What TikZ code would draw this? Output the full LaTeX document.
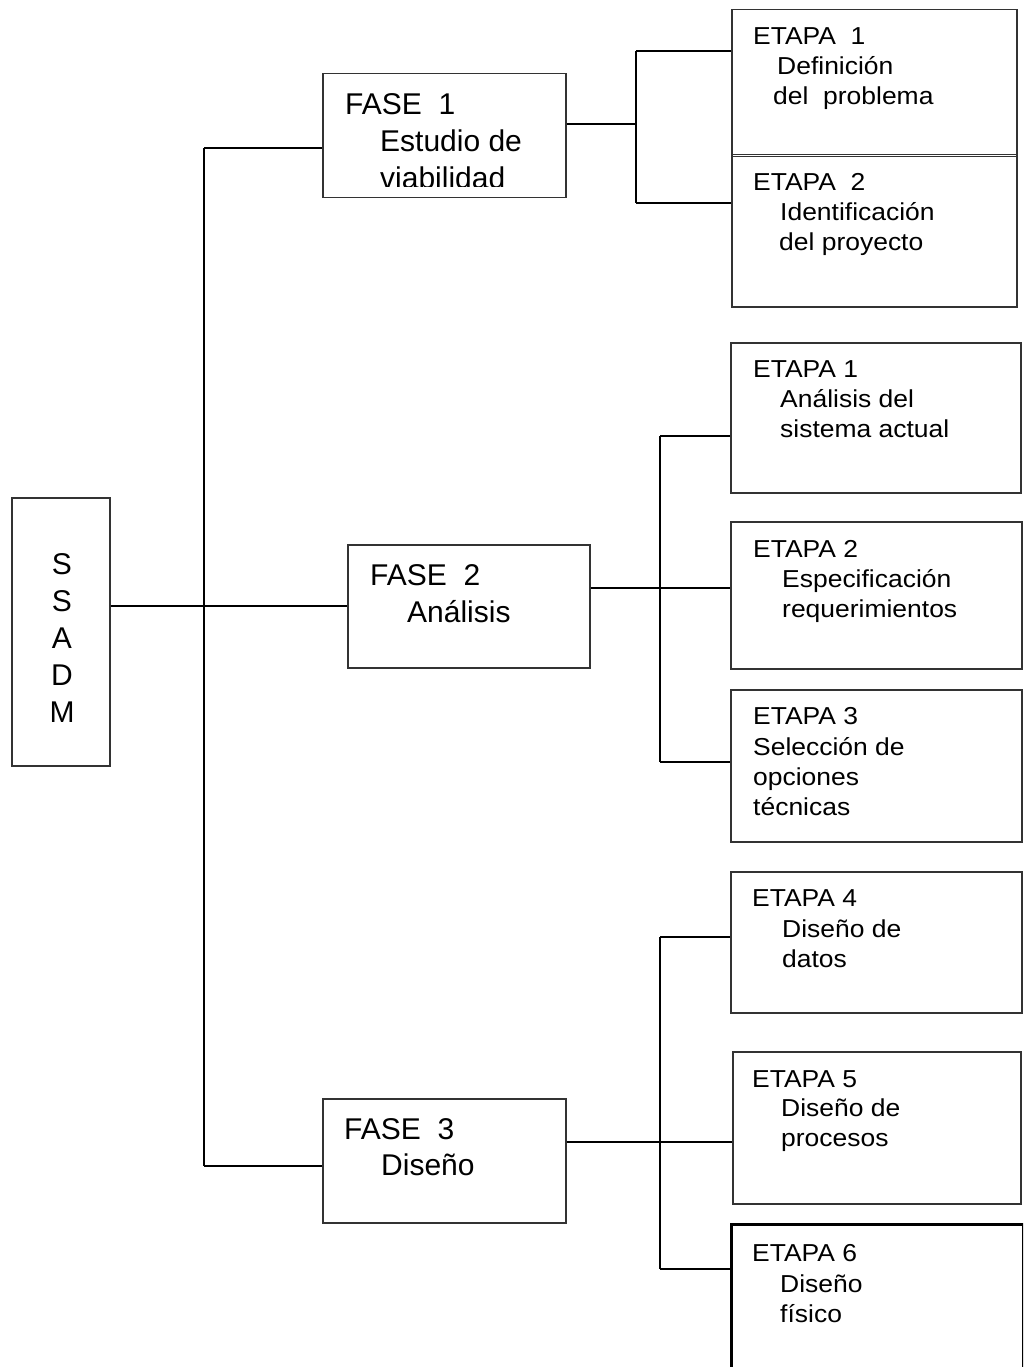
\documentclass[tikz,border=0pt]{standalone}
\usepackage{fontspec}
\setmainfont{Liberation Sans}
\newfontfamily\stagefont[FakeStretch=1.08]{Liberation Sans}

\tikzset{
  box/.style={draw=black!80, line width=1.5pt, anchor=north west, inner sep=0pt},
  wire/.style={draw=black, line width=2pt},
  big/.style={anchor=base west, inner sep=0pt, font=\fontsize{30}{37}\selectfont},
  small/.style={anchor=base west, inner sep=0pt, font=\stagefont\fontsize{24.5}{30}\selectfont},
  letter/.style={anchor=base, inner sep=0pt, font=\fontsize{30}{37}\selectfont}
}

\begin{document}
\begin{tikzpicture}[x=1pt, y=-1pt]
\useasboundingbox (0,0) rectangle (1023,1367);
\fill[white] (0,0) rectangle (1023,1367);
\clip (0,0) rectangle (1023,1367);

% ---- root ----
\node[box, minimum width=98pt, minimum height=268pt] (ssadm) at (11,497) {};
\node[letter] (l1) at (62,574) {S};
\node[letter] (l2) at (62,611) {S};
\node[letter] (l3) at (62,648) {A};
\node[letter] (l4) at (62,685) {D};
\node[letter] (l5) at (62,722) {M};

% ---- phases ----
\node[box, minimum width=243pt, minimum height=124pt] (f1) at (322,73) {};
\node[box, minimum width=242pt, minimum height=123pt] (f2) at (347,544) {};
\node[box, minimum width=243pt, minimum height=124pt] (f3) at (322,1098) {};

\node[big] (f1a) at (345,115) {FASE\ \ 1};
\node[big] (f1b) at (380,152) {Estudio de};
\begin{scope}
  \clip (322,73) rectangle (565,187);
  \node[big] (f1c) at (380,189) {viabilidad};
\end{scope}

\node[big] (f2a) at (370,585) {FASE\ \ 2};
\node[big] (f2b) at (407,622) {Análisis};

\node[big] (f3a) at (344,1139) {FASE\ \ 3};
\node[big] (f3b) at (381,1175) {Diseño};

% ---- stages ----
\node[box, minimum width=285pt, minimum height=147pt] (e11) at (731,9) {};
\node[box, minimum width=285pt, minimum height=152pt] (e12) at (731,154) {};
\node[box, minimum width=290pt, minimum height=150pt] (e21) at (730,342) {};
\node[box, minimum width=291pt, minimum height=147pt] (e22) at (730,521) {};
\node[box, minimum width=291pt, minimum height=152pt] (e23) at (730,689) {};
\node[box, minimum width=291pt, minimum height=141pt] (e34) at (730,871) {};
\node[box, minimum width=288pt, minimum height=152pt] (e35) at (732,1051) {};
\node[box, draw=black, line width=3pt, minimum width=292pt, minimum height=220pt] (e36) at (730,1223) {};

\node[small] (t11a) at (753,45)  {ETAPA\ \ 1};
\node[small] (t11b) at (777,75)  {Definición};
\node[small] (t11c) at (773,105) {del\ \ problema};

\node[small] (t12a) at (753,190) {ETAPA\ \ 2};
\node[small] (t12b) at (780,220) {Identificación};
\node[small] (t12c) at (779,250) {del proyecto};

\node[small] (t21a) at (753,377) {ETAPA 1};
\node[small] (t21b) at (780,407) {Análisis del};
\node[small] (t21c) at (780,437) {sistema actual};

\node[small] (t22a) at (753,557) {ETAPA 2};
\node[small] (t22b) at (782,587) {Especificación};
\node[small] (t22c) at (782,617) {requerimientos};

\node[small] (t23a) at (753,724) {ETAPA 3};
\node[small] (t23b) at (753,755) {Selección de};
\node[small] (t23c) at (753,785) {opciones};
\node[small] (t23d) at (753,815) {técnicas};

\node[small] (t34a) at (752,906) {ETAPA 4};
\node[small] (t34b) at (782,937) {Diseño de};
\node[small] (t34c) at (782,967) {datos};

\node[small] (t35a) at (752,1087) {ETAPA 5};
\node[small] (t35b) at (781,1116) {Diseño de};
\node[small] (t35c) at (781,1146) {procesos};

\node[small] (t36a) at (752,1261) {ETAPA 6};
\node[small] (t36b) at (780,1292) {Diseño};
\node[small] (t36c) at (780,1322) {físico};

% ---- connectors: root to phases ----
\coordinate (trunkTop) at (204,148);
\coordinate (trunkBot) at (204,1166);
\draw[wire] (ssadm.east |- f2.west) -- (f2.west);
\draw[wire] (trunkTop) -- (trunkBot);
\draw[wire] (trunkTop) -- (f1.west |- trunkTop);
\draw[wire] (trunkBot) -- (f3.west |- trunkBot);

% ---- phase 1 branch ----
\coordinate (b1) at (636,124);
\coordinate (b1t) at (636,51);
\coordinate (b1b) at (636,203);
\draw[wire] (f1.east |- b1) -- (b1);
\draw[wire] (b1t) -- (b1b);
\draw[wire] (b1t) -- (e11.west |- b1t);
\draw[wire] (b1b) -- (e12.west |- b1b);

% ---- phase 2 branch ----
\coordinate (b2) at (660,588);
\coordinate (b2t) at (660,436);
\coordinate (b2b) at (660,762);
\draw[wire] (f2.east |- b2) -- (e22.west |- b2);
\draw[wire] (b2t) -- (b2b);
\draw[wire] (b2t) -- (e21.west |- b2t);
\draw[wire] (b2b) -- (e23.west |- b2b);

% ---- phase 3 branch ----
\coordinate (b3) at (660,1142);
\coordinate (b3t) at (660,937);
\coordinate (b3b) at (660,1269);
\draw[wire] (f3.east |- b3) -- (e35.west |- b3);
\draw[wire] (b3t) -- (b3b);
\draw[wire] (b3t) -- (e34.west |- b3t);
\draw[wire] (b3b) -- (e36.west |- b3b);
\end{tikzpicture}
\end{document}
